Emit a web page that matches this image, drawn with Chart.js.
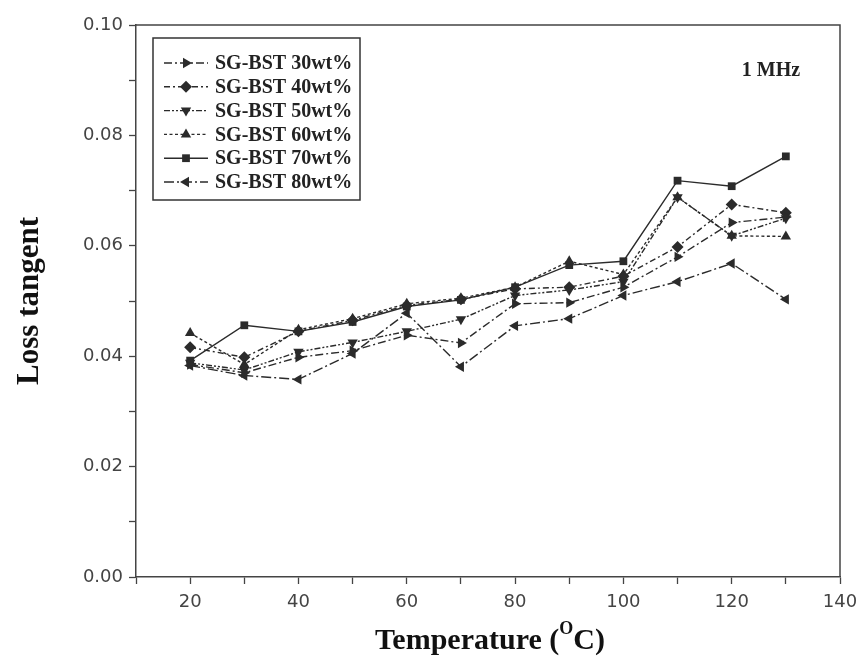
<!DOCTYPE html>
<html>
<head>
<meta charset="utf-8">
<script src="https://cdn.jsdelivr.net/npm/chart.js@4.4.1/dist/chart.umd.min.js"></script>
<style>
  html, body { margin: 0; padding: 0; background: #fff; }
  #wrap { width: 866px; height: 669px; }
</style>
</head>
<body>
<div id="wrap"><canvas id="lossChart" width="866" height="669"></canvas></div>
<script>
// temperatures (deg C)
const temps = [20, 30, 40, 50, 60, 70, 80, 90, 100, 110, 120, 130];

// loss tangent per composition
const bst30 = [0.0385, 0.0370, 0.0398, 0.0410, 0.0438, 0.0424, 0.0495, 0.0497, 0.0525, 0.0580, 0.0642, 0.0652];
const bst40 = [0.0416, 0.0398, 0.0445, 0.0465, 0.0492, 0.0503, 0.0522, 0.0525, 0.0545, 0.0598, 0.0675, 0.0660];
const bst50 = [0.0388, 0.0375, 0.0408, 0.0425, 0.0445, 0.0467, 0.0510, 0.0520, 0.0535, 0.0688, 0.0618, 0.0650];
const bst60 = [0.0442, 0.0385, 0.0448, 0.0468, 0.0495, 0.0505, 0.0525, 0.0572, 0.0548, 0.0688, 0.0618, 0.0617];
const bst70 = [0.0392, 0.0456, 0.0445, 0.0462, 0.0490, 0.0502, 0.0525, 0.0565, 0.0572, 0.0718, 0.0708, 0.0762];
const bst80 = [0.0383, 0.0365, 0.0358, 0.0405, 0.0478, 0.0381, 0.0455, 0.0468, 0.0510, 0.0535, 0.0568, 0.0503];

const seriesLabels = ["SG-BST 30wt%", "SG-BST 40wt%", "SG-BST 50wt%", "SG-BST 60wt%", "SG-BST 70wt%", "SG-BST 80wt%"];
const xTickLabels = [20, 40, 60, 80, 100, 120, 140];
const yTickLabels = [0.00, 0.02, 0.04, 0.06, 0.08, 0.10];

const ink = "#2b2b2b";

function makeSet(label, values, style, rotation, dash, radius) {
    return {
        label: label,
        data: temps.map((t, i) => ({ x: t, y: values[i] })),
        borderColor: ink,
        backgroundColor: ink,
        borderWidth: 1.4,
        borderDash: dash,
        pointStyle: style,
        rotation: rotation,
        pointRadius: radius,
        pointBorderWidth: 0,
        tension: 0
    };
}

const datasets = [
    makeSet(seriesLabels[0], bst30, "triangle", 90, [8, 3, 2, 3], 6),
    makeSet(seriesLabels[1], bst40, "rectRot", 0, [6, 3, 2, 3], 6),
    makeSet(seriesLabels[2], bst50, "triangle", 180, [6, 2, 2, 2, 2, 2], 6),
    makeSet(seriesLabels[3], bst60, "triangle", 0, [3, 2.5], 6),
    makeSet(seriesLabels[4], bst70, "rect", 0, [], 5.5),
    makeSet(seriesLabels[5], bst80, "triangle", 270, [10, 3, 2, 3], 6)
];

// legend box drawn inside the plot, like the original figure
const boxLegend = {
    id: "boxLegend",
    afterDraw(chart) {
        const ctx = chart.ctx;
        ctx.save();
        ctx.strokeStyle = "#333";
        ctx.lineWidth = 1.5;
        ctx.strokeRect(153, 38, 207, 162);
        chart.data.datasets.forEach((ds, i) => {
            const y = 63 + i * 23.8;
            ctx.strokeStyle = ink;
            ctx.fillStyle = ink;
            ctx.lineWidth = 1.4;
            ctx.setLineDash(ds.borderDash);
            ctx.beginPath();
            ctx.moveTo(164, y);
            ctx.lineTo(208, y);
            ctx.stroke();
            ctx.setLineDash([]);
            Chart.helpers.drawPoint(ctx, {
                pointStyle: ds.pointStyle,
                rotation: ds.rotation,
                radius: ds.pointRadius,
                borderWidth: 0
            }, 186, y);
            ctx.fillStyle = "#222";
            ctx.font = "bold 20px 'Liberation Serif', serif";
            ctx.textBaseline = "middle";
            ctx.textAlign = "left";
            ctx.fillText(ds.label, 215, y + 1);
        });
        // frequency note
        ctx.font = "bold 20px 'Liberation Serif', serif";
        ctx.textAlign = "center";
        ctx.fillText("1 MHz", 771, 71);

        // x axis title with superscript O
        ctx.fillStyle = "#111";
        const big = "bold 30px 'Liberation Serif', serif";
        const small = "bold 18px 'Liberation Serif', serif";
        ctx.font = big;
        const a = "Temperature (", c = "C)";
        const wa = ctx.measureText(a).width, wc = ctx.measureText(c).width;
        ctx.font = small;
        const wo = ctx.measureText("O").width;
        let x = 490 - (wa + wo + wc) / 2;
        ctx.textAlign = "left";
        ctx.textBaseline = "alphabetic";
        ctx.font = big;
        ctx.fillText(a, x, 649);
        ctx.font = small;
        ctx.fillText("O", x + wa, 634);
        ctx.font = big;
        ctx.fillText(c, x + wa + wo, 649);
        ctx.restore();
    }
};

new Chart(document.getElementById("lossChart").getContext("2d"), {
    type: "line",
    data: { datasets: datasets },
    options: {
        responsive: false,
        animation: false,
        layout: { padding: { top: 25, right: 26, left: 0, bottom: 0 } },
        plugins: { legend: { display: false }, tooltip: { enabled: false } },
        scales: {
            x: {
                type: "linear",
                min: 10,
                max: 140,
                border: { display: true, color: "#444", width: 1.5 },
                grid: { drawOnChartArea: false, color: "#444", tickLength: 7, tickWidth: 1.3 },
                ticks: {
                    stepSize: 10,
                    autoSkip: false,
                    maxRotation: 0,
                    padding: 8,
                    color: "#444",
                    font: { family: "'DejaVu Sans', sans-serif", size: 18 },
                    callback: v => xTickLabels.includes(v) ? String(v) : ""
                },
                afterFit: s => { s.height = 92; }
            },
            y: {
                min: 0,
                max: 0.1,
                border: { display: true, color: "#444", width: 1.5 },
                grid: { drawOnChartArea: false, color: "#444", tickLength: 7, tickWidth: 1.3 },
                ticks: {
                    stepSize: 0.01,
                    autoSkip: false,
                    padding: 6,
                    color: "#444",
                    font: { family: "'DejaVu Sans', sans-serif", size: 18 },
                    callback: v => {
                        const r = Math.round(v * 100) / 100;
                        return yTickLabels.some(t => Math.abs(t - r) < 1e-9 && Math.abs(v - r) < 1e-9) ? r.toFixed(2) : "";
                    }
                },
                title: {
                    display: true,
                    text: "Loss tangent",
                    color: "#111",
                    font: { family: "'Liberation Serif', serif", size: 31, weight: "bold" },
                    padding: { top: 11, bottom: 0 }
                },
                afterFit: s => { s.width = 136; }
            }
        }
    },
    plugins: [boxLegend, {
        id: "frame",
        afterDatasetsDraw(chart) {
            const a = chart.chartArea, ctx = chart.ctx;
            ctx.save();
            ctx.strokeStyle = "#444";
            ctx.lineWidth = 1.5;
            ctx.beginPath();
            ctx.moveTo(a.left, a.top);
            ctx.lineTo(a.right, a.top);
            ctx.lineTo(a.right, a.bottom);
            ctx.stroke();
            ctx.restore();
        }
    }]
});
</script>
</body>
</html>
